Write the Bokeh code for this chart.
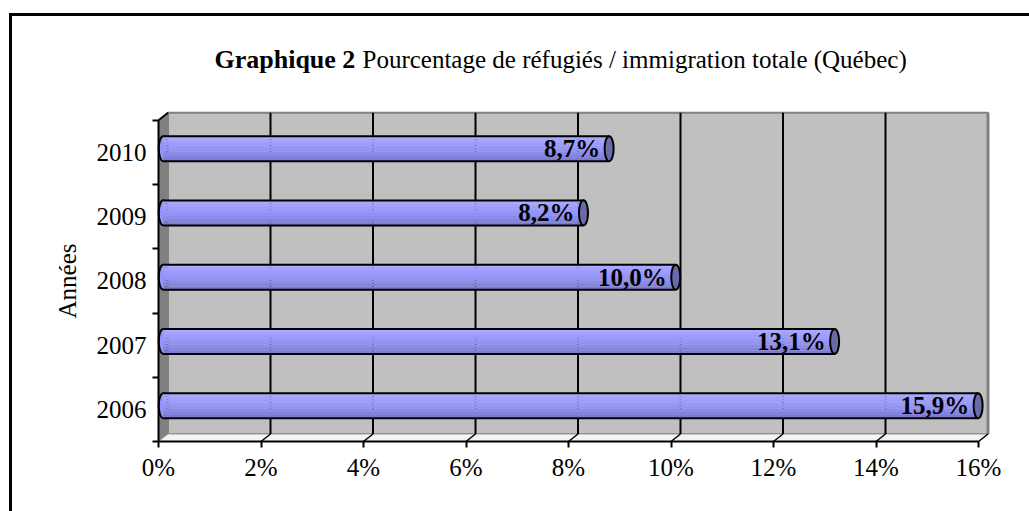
from bokeh.plotting import figure
from bokeh.models import (Range1d, FixedTicker, PrintfTickFormatter, LinearAxis,
                          ColumnDataSource)
from bokeh.core.properties import value
from bokeh.embed import file_html
from bokeh.resources import INLINE

# ---------------- data ----------------
years = ["2006", "2007", "2008", "2009", "2010"]
pct = [15.9, 13.1, 10.0, 8.2, 8.7]
x_ticks = [0, 2, 4, 6, 8, 10, 12, 14, 16]
title_bold = "Graphique 2"
title_rest = "Pourcentage de réfugiés / immigration totale (Québec)"
y_title = "Années"
bar_labels = [f"{v:.1f}".replace(".", ",") + "%" for v in pct]

# ---------------- layout constants ----------------
FONT = "Liberation Serif"
W, H = 1029, 511
X0, YB = 158, 441        # pixel position of (0 %, lower edge of first category)
PX_X = 51.25             # px per percent
PX_Y = 64.25             # px per category
n = len(years)
x_max = x_ticks[-1]


def X(px):
    return (px - X0) / PX_X


def Y(py):
    return -0.5 + (YB - py) / PX_Y


DX = 9.5 / PX_X          # 3-D depth offset
DY = 7.5 / PX_Y
BAR_H = 25 / PX_Y
y_lo, y_hi = -0.5, n - 0.5

p = figure(width=W, height=H, output_backend="svg", toolbar_location=None,
           x_range=Range1d(X(0), X(W)), y_range=Range1d(Y(H), Y(0)),
           x_axis_location=None, y_axis_location=None,
           min_border=0, min_border_left=0, min_border_right=0,
           min_border_top=0, min_border_bottom=0)
p.outline_line_color = None
p.grid.visible = False
p.background_fill_color = "white"
p.border_fill_color = "white"

# back wall
p.quad(left=[DX], right=[x_max + DX], bottom=[y_lo + DY], top=[y_hi + DY],
       fill_color="#C0C0C0", line_color="#808080", line_width=2)
# left wall
p.patch(x=[0, 0, DX, DX], y=[y_lo, y_hi, y_hi + DY, y_lo + DY],
        fill_color="#808080", line_color="#808080", line_width=1)
# floor
p.patch(x=[0, x_max, x_max + DX, DX], y=[y_lo, y_lo, y_lo + DY, y_lo + DY],
        fill_color="#F4F4F4", line_color="#A0A0A0", line_width=1)
# right wall edge
p.segment(x0=[x_max + DX], y0=[y_lo + DY], x1=[x_max + DX], y1=[y_hi + DY],
          line_color="#808080", line_width=3)
# top slanted end of axis to wall
p.segment(x0=[0], y0=[y_hi], x1=[DX], y1=[y_hi + DY], line_color="black", line_width=2)

# gridlines on back wall
gx = [t + DX for t in x_ticks[1:-1]]
p.segment(x0=gx, y0=[y_lo + DY] * len(gx), x1=gx, y1=[y_hi + DY] * len(gx),
          line_color="black", line_width=2)
# floor diagonal tick lines
fx = x_ticks[1:]
p.segment(x0=fx, y0=[y_lo] * len(fx), x1=[t + DX for t in fx], y1=[y_lo + DY] * len(fx),
          line_color="black", line_width=1.5)

# ---------------- bars (cylinders) ----------------
yc = [i + DY / 2 for i in range(n)]
src = ColumnDataSource(dict(y=yc, left=[DX / 2] * n, right=[v + DX / 2 for v in pct],
                            top=[c + BAR_H / 2 for c in yc], bot=[c - BAR_H / 2 for c in yc],
                            lab=bar_labels))

p.ellipse(x="left", y="y", width=9, height=BAR_H, width_units="screen", source=src,
          fill_color="#9494F6", line_color="black", line_width=2)
shades = ["#A9A9FF", "#A2A2FF", "#9C9CFF", "#9797FA", "#9292F3", "#8B8BEA", "#8383E0", "#7B7BD5"]
ns = len(shades)
for k, col in enumerate(shades):
    off = BAR_H / 2 - (k + 0.5) * BAR_H / ns
    s = ColumnDataSource(dict(y=[c + off for c in yc], left=[DX / 2] * n,
                              right=[v + DX / 2 for v in pct]))
    p.hbar(y="y", left="left", right="right", height=BAR_H / ns * 1.05, source=s,
           fill_color=col, line_color=None)
p.segment(x0="left", y0="top", x1="right", y1="top", source=src, line_color="black", line_width=2)
p.segment(x0="left", y0="bot", x1="right", y1="bot", source=src, line_color="black", line_width=2)
p.ellipse(x="right", y="y", width=9, height=BAR_H, width_units="screen", source=src,
          fill_color="#6A6AAA", line_color="black", line_width=2)
p.text(x="right", y="y", text="lab", source=src, x_offset=-9, text_align="right",
       text_baseline="middle", text_font=value(FONT), text_font_style="bold",
       text_font_size="25px", text_color="black")

# ---------------- axes ----------------
xa = LinearAxis(fixed_location=y_lo)
xa.ticker = FixedTicker(ticks=x_ticks, minor_ticks=[])
xa.formatter = PrintfTickFormatter(format="%d%%")
xa.bounds = (0, x_max)
xa.axis_line_width = 2
xa.axis_line_color = "black"
xa.major_tick_out = 6
xa.major_tick_in = 0
xa.major_tick_line_width = 2
xa.minor_tick_out = 0
xa.major_label_text_font = FONT
xa.major_label_text_font_size = "25px"
xa.major_label_text_color = "black"
xa.major_label_standoff = 6
p.add_layout(xa, "below")

ya = LinearAxis(fixed_location=0)
ya.ticker = FixedTicker(ticks=list(range(n)), minor_ticks=[i - 0.5 for i in range(n + 1)])
ya.major_label_overrides = {i: years[i] for i in range(n)}
ya.bounds = (y_lo, y_hi)
ya.axis_line_width = 2
ya.axis_line_color = "black"
ya.major_tick_out = 0
ya.major_tick_in = 0
ya.minor_tick_out = 6
ya.minor_tick_in = 0
ya.minor_tick_line_width = 2
ya.minor_tick_line_color = "black"
ya.major_label_text_font = FONT
ya.major_label_text_font_size = "25px"
ya.major_label_text_color = "black"
ya.major_label_standoff = 6
ya.axis_label = y_title
ya.axis_label_text_font = FONT
ya.axis_label_text_font_size = "25px"
ya.axis_label_text_font_style = "normal"
ya.axis_label_text_color = "black"
ya.axis_label_standoff = 13
p.add_layout(ya, "left")

# ---------------- title ----------------
p.text(x=[X(214)], y=[Y(59)], text=[title_bold], text_font=value(FONT),
       text_font_style="bold", text_font_size="26px", text_baseline="middle",
       text_align="left", text_color="black")
p.text(x=[X(362)], y=[Y(59)], text=[title_rest], text_font=value(FONT),
       text_font_style="normal", text_font_size="25px", text_baseline="middle",
       text_align="left", text_color="black")

# outer frame (only top and left edges fall inside the picture)
p.segment(x0=[X(10), X(10)], y0=[Y(14), Y(14)], x1=[X(W + 5), X(10)], y1=[Y(14), Y(H + 5)],
          line_color="black", line_width=3, line_cap="square")

open("out.html", "w").write(file_html(p, INLINE))
